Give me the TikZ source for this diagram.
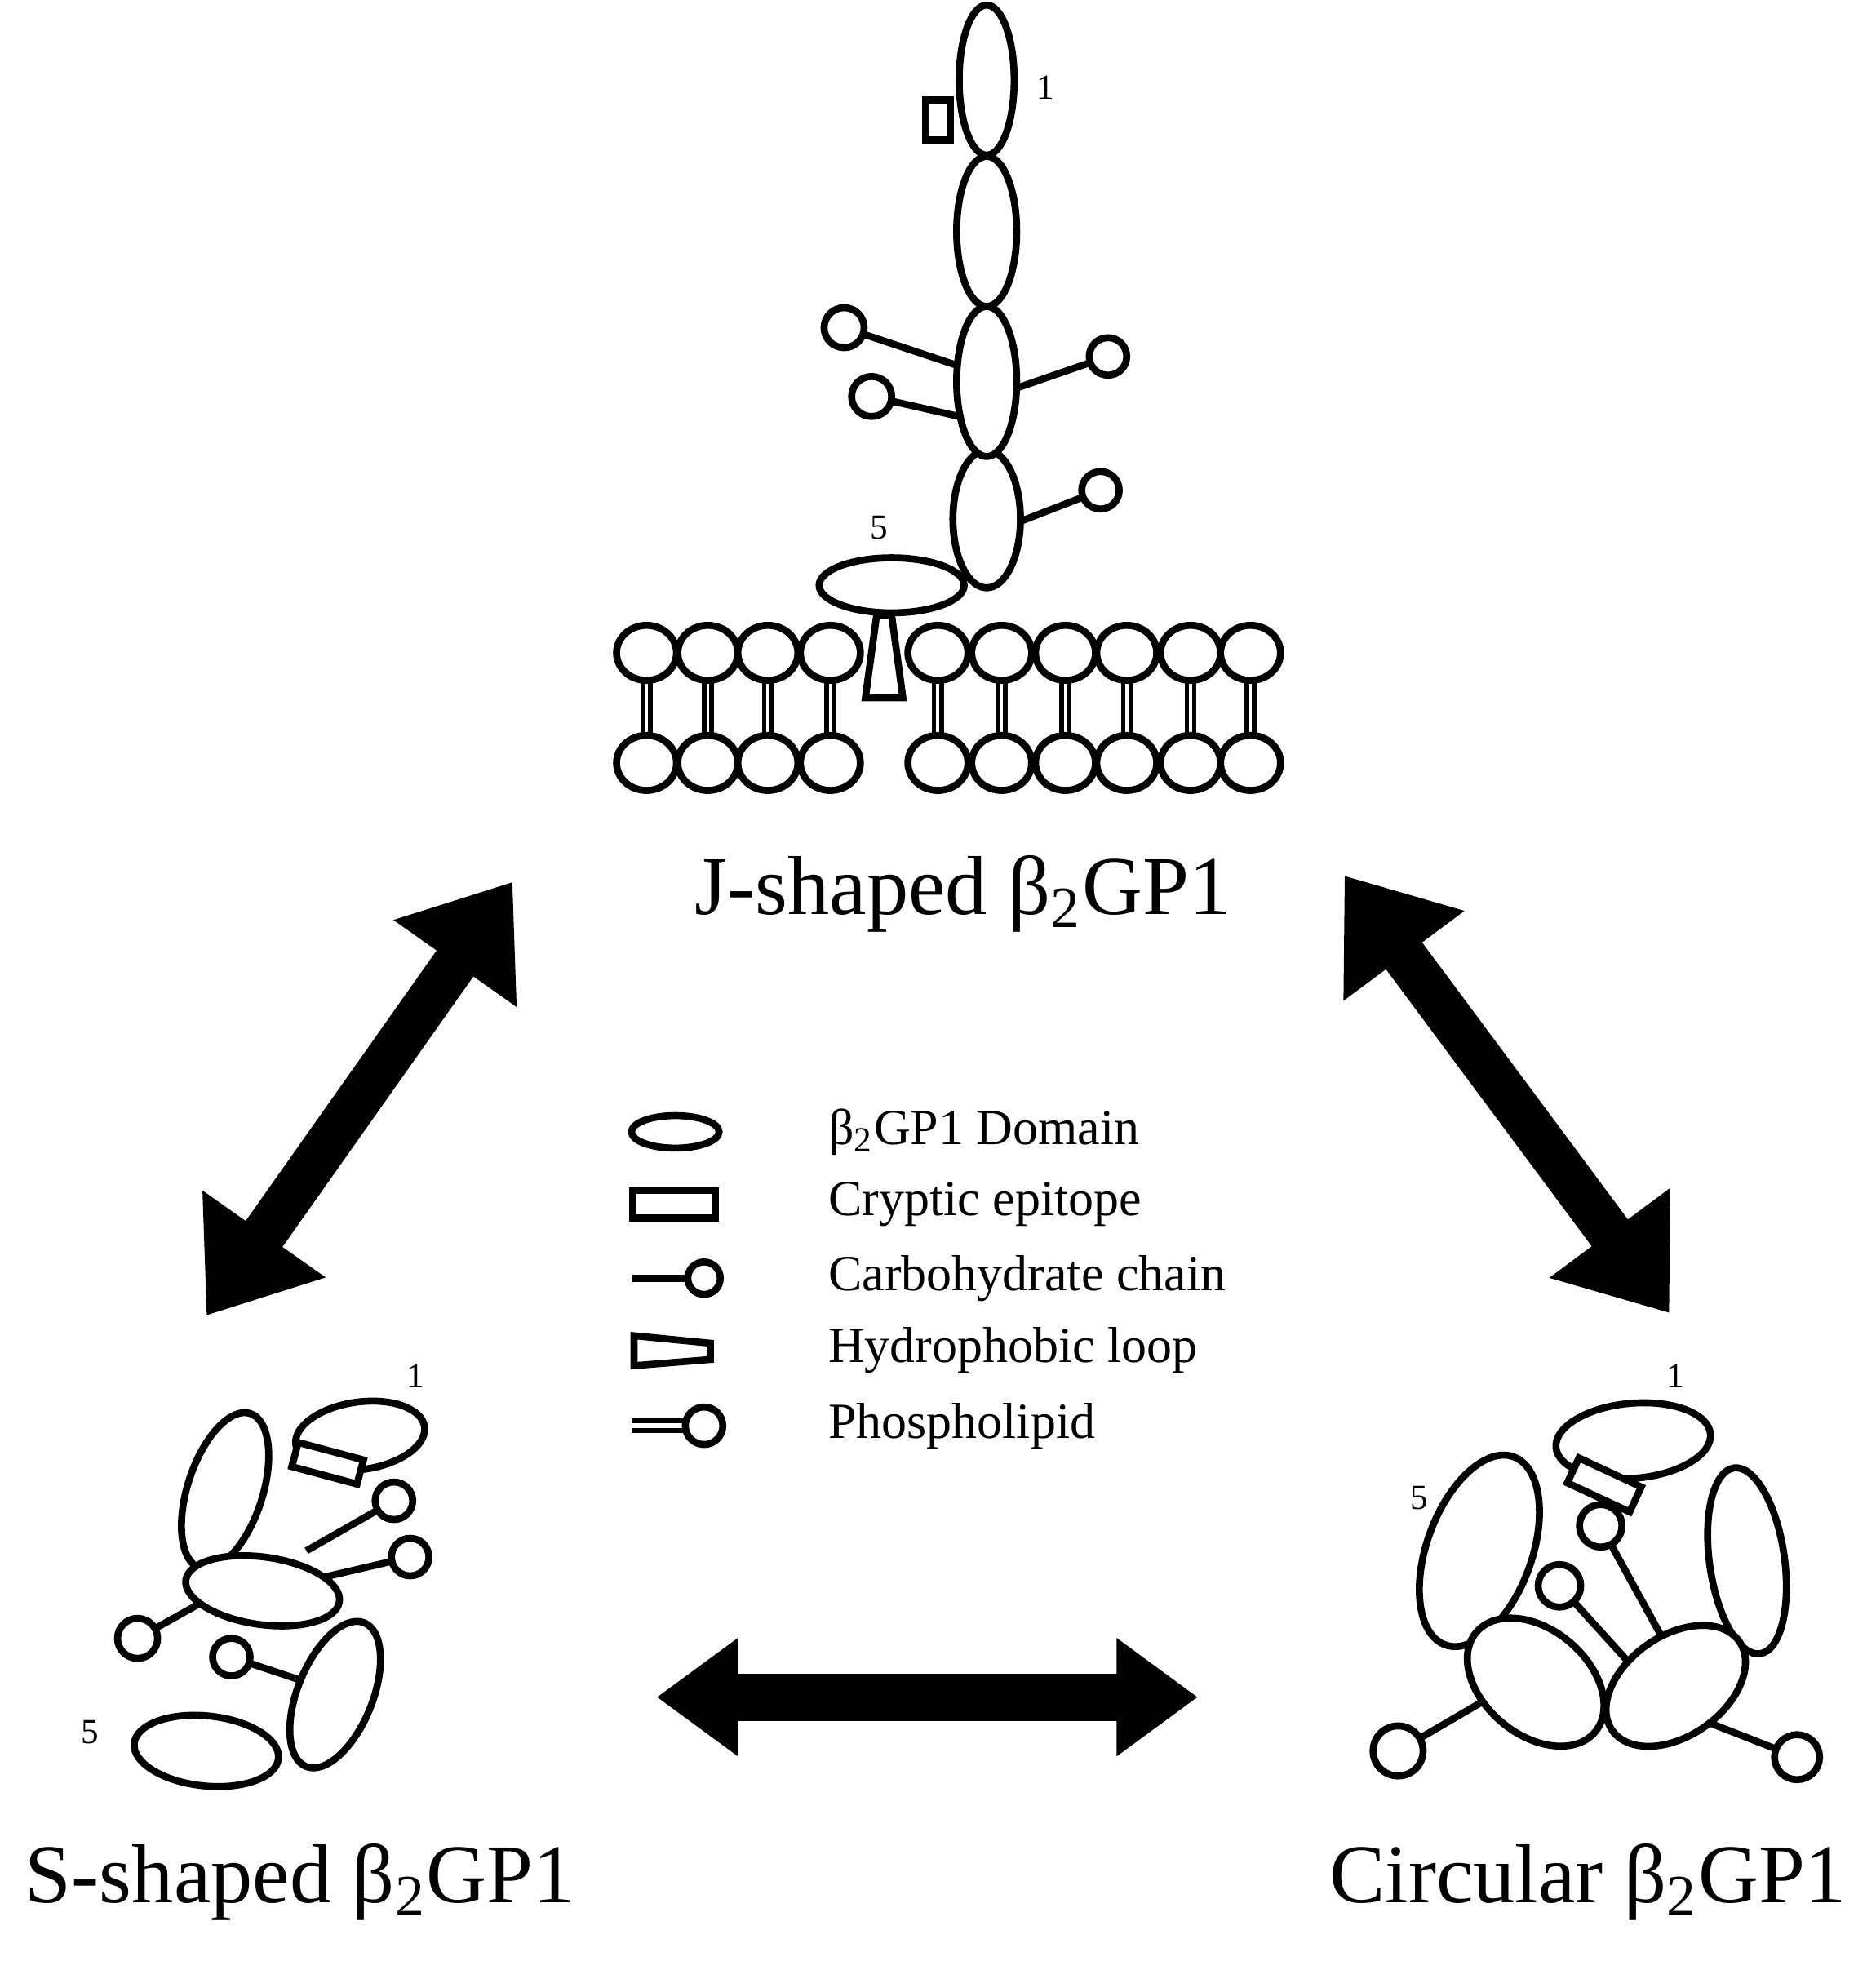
\documentclass[tikz,border=0pt]{standalone}
\usepackage{fontspec}
\setmainfont{Liberation Serif}
\usetikzlibrary{arrows.meta}
\begin{document}
\begin{tikzpicture}[x=0.01cm,y=-0.01cm,
 ln/.style={line width=1.6pt},
 dom/.style={ln,fill=white},
 big/.style={font=\fontsize{19}{22}\selectfont},
 leg/.style={font=\fontsize{11.5}{14}\selectfont,anchor=west},
 num/.style={font=\fontsize{8}{10}\selectfont},
 barr/.style={line width=0.36cm,{Triangle[length=0.8cm,width=1.15cm]}-{Triangle[length=0.8cm,width=1.15cm]}},
 harr/.style={line width=0.38cm,{Triangle[length=0.65cm,width=0.9cm]}-{Triangle[length=0.65cm,width=0.9cm]}}]
\useasboundingbox (0,0) rectangle (1500,1568);
% ---------- J-shaped ----------
\foreach \x [count=\i] in {517,566,614,664,750,801,852,901,952,1000}{
  \draw[line width=1pt] (\x-3,545)--(\x-3,588) (\x+3,545)--(\x+3,588);
  \draw[ln,fill=white] (\x,522) ellipse (24 and 22);
  \draw[ln,fill=white] (\x,610) ellipse (24 and 22);
}
\draw[ln] (675,262)--(789,300) (697,317)--(789,338) (886,285)--(808,312) (880,392)--(808,420);
\draw[ln,fill=white] (675,262) circle (16) (697,317) circle (16) (886,285) circle (15) (880,392) circle (15);
\draw[dom] (789,415) ellipse (27 and 55);
\draw[dom] (789,305) ellipse (24 and 60);
\draw[dom] (789,185) ellipse (24 and 60);
\draw[dom] (789,64) ellipse (22 and 60);
\draw[ln,fill=white] (740,80) rectangle (760,112);
\draw[ln,fill=white] (701,492)--(713,492)--(722,558)--(692,558)--cycle;
\draw[dom] (713,468) ellipse (58 and 22);
\node[num] (n1j) at (836,70) {1};
\node[num] (n5j) at (703,422) {5};
\node[big] (lj) at (770,715) {J-shaped β\textsubscript{2}GP1};
% ---------- arrows ----------
\coordinate (a1) at (410,705); \coordinate (a2) at (165,1052);
\coordinate (b1) at (1075,700); \coordinate (b2) at (1335,1050);
\coordinate (c1) at (525,1357); \coordinate (c2) at (958,1357);
\draw[barr] (a1)--(a2);
\draw[barr] (b1)--(b2);
\draw[harr] (c1)--(c2);
% ---------- legend ----------
\draw[ln] (540,905) ellipse (35 and 13);
\draw[ln] (506,952) rectangle (572,974);
\draw[ln] (506,1022)--(550,1022); \draw[ln] (563,1022) circle (13);
\draw[ln] (507,1068)--(568,1074)--(568,1087)--(507,1092)--cycle;
\draw[line width=1.2pt] (505,1136)--(548,1136) (505,1144)--(548,1144);
\draw[ln] (563,1140) circle (15);
\node[leg] (t1) at (650,905) {β\textsubscript{2}GP1 Domain};
\node[leg] (t2) at (650,963) {Cryptic epitope};
\node[leg] (t3) at (650,1022) {Carbohydrate chain};
\node[leg] (t4) at (650,1080) {Hydrophobic loop};
\node[leg] (t5) at (650,1140) {Phospholipid};
% ---------- S-shaped ----------
\draw[ln] (245,1240)--(315,1200) (255,1262)--(328,1245) (110,1310)--(160,1282) (185,1325)--(245,1345);
\draw[ln,fill=white] (315,1200) circle (15) (328,1245) circle (15) (110,1310) circle (16) (185,1325) circle (15);
\draw[dom,rotate around={-18:(180,1192)}] (180,1192) ellipse (30 and 65);
\draw[dom,rotate around={8:(288,1148)}] (288,1148) ellipse (52 and 27);
\draw[ln,fill=white,rotate around={-15:(262,1170)}] (235,1160) rectangle (289,1180);
\draw[dom,rotate around={-8:(210,1272)}] (210,1272) ellipse (62 and 27);
\draw[dom,rotate around={-22:(268,1355)}] (268,1355) ellipse (30 and 62);
\draw[dom,rotate around={-6:(165,1400)}] (165,1400) ellipse (58 and 28);
\node[num] (n1s) at (332,1100) {1};
\node[num] (n5s) at (72,1385) {5};
\node[big] (ls) at (240,1505) {S-shaped β\textsubscript{2}GP1};
% ---------- Circular ----------
\draw[ln] (1280,1220)--(1335,1320) (1247,1268)--(1305,1332) (1118,1400)--(1190,1358) (1437,1405)--(1368,1378);
\draw[ln,fill=white] (1280,1220) circle (17) (1247,1268) circle (17) (1118,1400) circle (20) (1437,1405) circle (18);
\draw[dom,rotate around={-20:(1183,1240)}] (1183,1240) ellipse (42 and 80);
\draw[dom,rotate around={8:(1397,1248)}] (1397,1248) ellipse (30 and 75);
\draw[dom,rotate around={5:(1306,1152)}] (1306,1152) ellipse (62 and 30);
\draw[ln,fill=white,rotate around={-25:(1282,1188)}] (1255,1176) rectangle (1310,1198);
\draw[dom,rotate around={-40:(1228,1345)}] (1228,1345) ellipse (62 and 42);
\draw[dom,rotate around={35:(1340,1348)}] (1340,1348) ellipse (62 and 40);
\node[num] (n1c) at (1340,1100) {1};
\node[num] (n5c) at (1135,1198) {5};
\node[big] (lc) at (1270,1505) {Circular β\textsubscript{2}GP1};
\end{tikzpicture}
\end{document}
